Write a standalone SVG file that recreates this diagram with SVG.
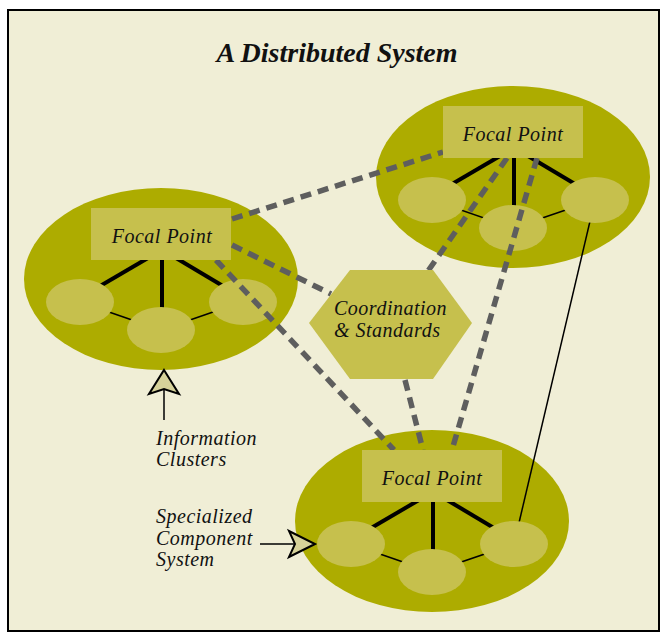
<svg xmlns="http://www.w3.org/2000/svg" width="662" height="634" viewBox="0 0 662 634">
<style>
.big{fill:#adac00}
.sm{fill:#c6c04d}
.box{fill:#c6c04d}
.thick{stroke:#000;stroke-width:4;fill:none}
.thin{stroke:#000;stroke-width:1.5;fill:none}
.dash{stroke:#5e5e5e;stroke-width:5.5;stroke-dasharray:11 7;fill:none}
.lbl{font-family:"Liberation Serif",serif;font-style:italic;font-size:20px;letter-spacing:0.5px;fill:#111}
.ttl{font-family:"Liberation Serif",serif;font-style:italic;font-weight:bold;font-size:28px;fill:#111}
.arr{fill:#d6d29a;stroke:#000;stroke-width:2;stroke-linejoin:miter}
</style>
<rect x="8" y="10" width="651" height="621" fill="#f0eed6" stroke="#000" stroke-width="2"/>
<text class="ttl" x="337" y="62" text-anchor="middle">A Distributed System</text>

<g id="cluster-left">
<ellipse class="big" cx="161" cy="279" rx="137" ry="91"/>
<line class="thin" x1="80" y1="302" x2="161" y2="330"/>
<line class="thin" x1="161" y1="330" x2="242" y2="302"/>
<line class="thick" x1="148" y1="258" x2="95" y2="289"/>
<line class="thick" x1="162" y1="258" x2="162" y2="312"/>
<line class="thick" x1="176" y1="258" x2="228" y2="289"/>
<ellipse class="sm" cx="80" cy="302" rx="34" ry="23"/>
<ellipse class="sm" cx="161" cy="330" rx="34" ry="23"/>
<ellipse class="sm" cx="243" cy="302" rx="34" ry="23"/>
</g>

<g id="cluster-right">
<ellipse class="big" cx="513" cy="177" rx="137" ry="91"/>
<line class="thin" x1="432" y1="200" x2="513" y2="228"/>
<line class="thin" x1="513" y1="228" x2="595" y2="200"/>
<line class="thick" x1="500" y1="156" x2="447" y2="187"/>
<line class="thick" x1="514" y1="156" x2="514" y2="210"/>
<line class="thick" x1="528" y1="156" x2="580" y2="187"/>
<ellipse class="sm" cx="432" cy="200" rx="34" ry="23"/>
<ellipse class="sm" cx="513" cy="228" rx="34" ry="23"/>
</g>

<g id="cluster-bottom">
<ellipse class="big" cx="432" cy="521" rx="137" ry="91"/>
<line class="thin" x1="351" y1="544" x2="432" y2="572"/>
<line class="thin" x1="432" y1="572" x2="514" y2="544"/>
<line class="thick" x1="419" y1="500" x2="366" y2="531"/>
<line class="thick" x1="433" y1="500" x2="433" y2="554"/>
<line class="thick" x1="447" y1="500" x2="499" y2="531"/>
<ellipse class="sm" cx="351" cy="544" rx="34" ry="23"/>
<ellipse class="sm" cx="432" cy="572" rx="34" ry="23"/>
</g>

<g id="connectors">
<line class="thin" x1="595" y1="200" x2="514" y2="544"/>
<line class="dash" x1="232" y1="219" x2="443" y2="152"/>
<line class="dash" x1="232" y1="245" x2="331" y2="294"/>
<line class="dash" x1="216" y1="260" x2="394" y2="450"/>
<line class="dash" x1="507" y1="158" x2="428" y2="271"/>
<line class="dash" x1="537" y1="158" x2="452" y2="450"/>
<line class="dash" x1="405" y1="380" x2="423" y2="450"/>
</g>

<g id="component-right-3">
<ellipse class="sm" cx="595" cy="200" rx="34" ry="23"/>
</g>
<g id="component-bottom-3">
<ellipse class="sm" cx="514" cy="544" rx="34" ry="23"/>
</g>

<g id="focal-left">
<rect class="box" x="91" y="208" width="140" height="52"/>
<text class="lbl" x="162" y="243" text-anchor="middle">Focal Point</text>
</g>
<g id="focal-right">
<rect class="box" x="443" y="106" width="140" height="52"/>
<text class="lbl" x="513" y="141" text-anchor="middle">Focal Point</text>
</g>
<g id="focal-bottom">
<rect class="box" x="362" y="450" width="140" height="52"/>
<text class="lbl" x="432" y="485" text-anchor="middle">Focal Point</text>
</g>

<g id="coordination">
<polygon class="box" points="309,323 350,270 433,270 472,323 433,379 350,379"/>
<text class="lbl" x="334" y="315">Coordination</text>
<text class="lbl" x="334" y="337">&amp; Standards</text>
</g>

<g id="label-info">
<line class="thin" x1="164" y1="388" x2="164" y2="420"/>
<polygon class="arr" points="164,370 179,394 164,389 149,394"/>
<text class="lbl" x="156" y="445">Information</text>
<text class="lbl" x="156" y="466">Clusters</text>
</g>

<g id="label-spec">
<line class="thin" x1="260" y1="544" x2="296" y2="544"/>
<polygon class="arr" points="315,544 289,557 295,544 289,531"/>
<text class="lbl" x="156" y="523">Specialized</text>
<text class="lbl" x="156" y="545">Component</text>
<text class="lbl" x="156" y="566">System</text>
</g>
</svg>
